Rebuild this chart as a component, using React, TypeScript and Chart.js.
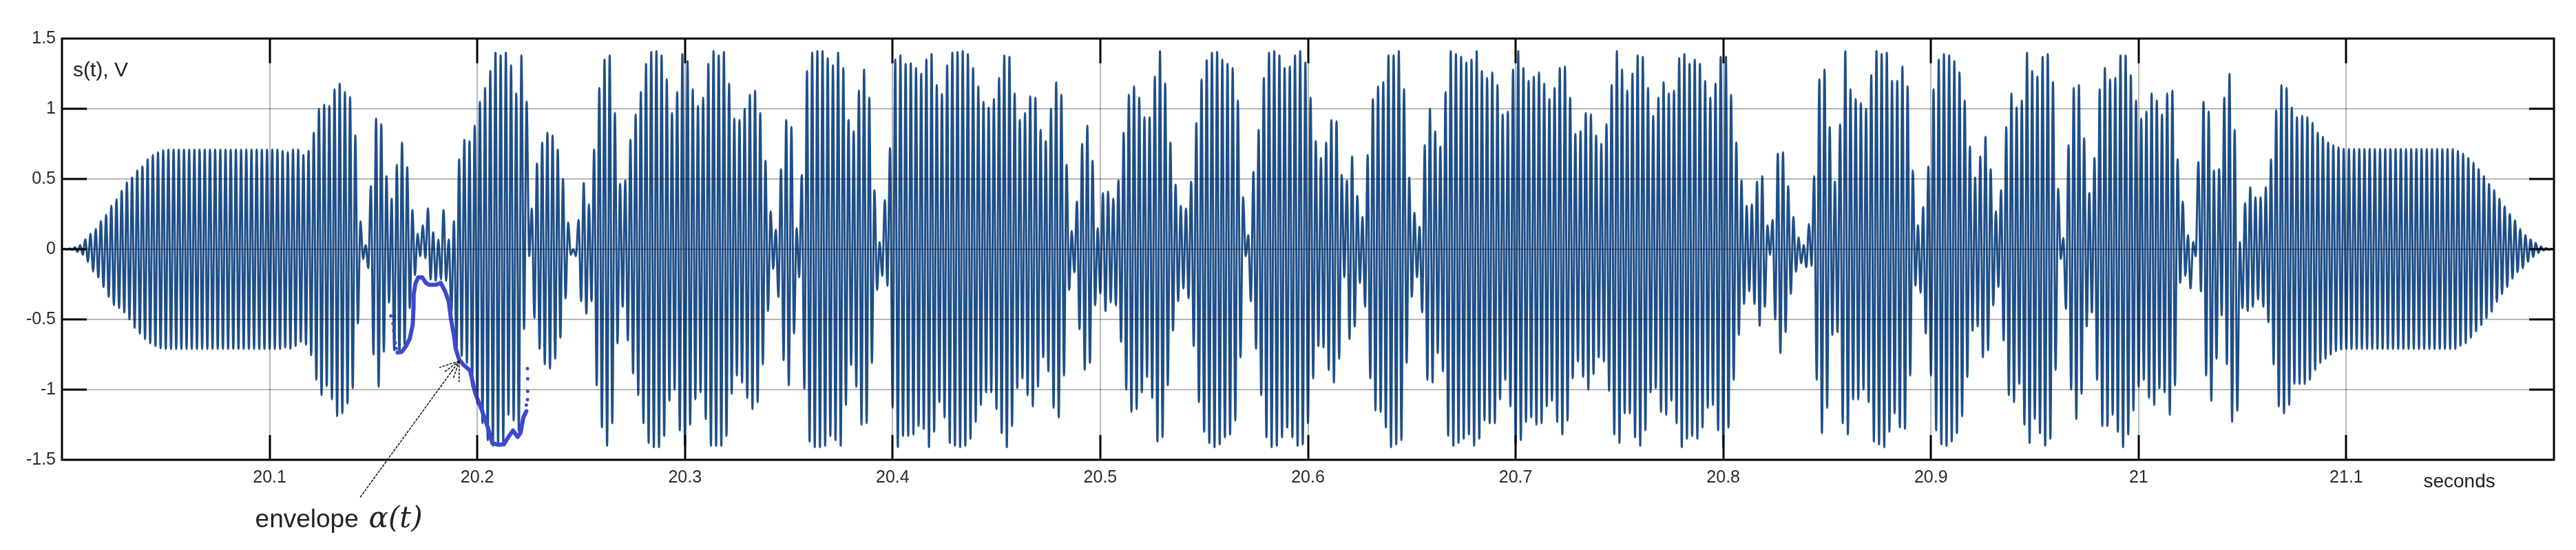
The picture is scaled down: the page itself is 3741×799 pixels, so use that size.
import React, { useEffect, useRef } from "react";
import { Chart, registerables } from "chart.js";

Chart.register(...registerables);

// --- values ---
const startTime = 20.0;
const endTime = 21.2;
const carrierPeriod = 0.0025;

// Positive peak of each carrier cycle
const upperPeaks: number[] = [
  0.003, 0.005, 0.015, 0.03, 0.07, 0.11, 0.145, 0.2, 0.245, 0.31, 0.355, 0.415, 0.475, 0.51, 0.56, 0.59, 0.64, 0.67, 0.69, 0.705,
  0.71, 0.71, 0.71, 0.71, 0.71, 0.71, 0.71, 0.71, 0.71, 0.71, 0.71, 0.71, 0.71, 0.71, 0.71, 0.71, 0.71, 0.71, 0.71, 0.71, 0.71, 0.71,
  0.7, 0.69, 0.71, 0.71, 0.67, 0.7, 0.83, 1.0, 1.03, 1.02, 1.14, 1.18,
  1.12, 1.085, 0.81, 0.2, 0.03, 0.45, 0.93, 0.89, 0.52, 0.36, 0.6, 0.76, 0.585, 0.28, 0.11, 0.17, 0.29, 0.12, 0.07, 0.28, 0.07, 0.2,
  0.64, 0.78, 0.77, 0.88, 1.05, 1.15, 1.27, 1.4, 1.38, 1.4, 1.31, 1.11, 1.38, 1.05, 0.29, 0.61, 0.76, 0.83, 0.81, 0.71, 0.5, 0.19, 0.0,
  0.21, 0.47, 0.32, 0.71, 1.15, 1.35, 1.38, 0.97, 0.465,
  0.49, 0.78, 0.96, 1.12, 1.32, 1.405, 1.41, 1.38, 1.21, 0.97, 1.12, 1.39, 1.34, 1.14, 1.02, 1.08, 1.32, 1.41, 1.38, 1.405, 1.18, 0.93,
  0.92, 1.0, 1.1, 1.13, 0.97, 0.63, 0.27, 0.14, 0.57, 0.92, 0.87, 0.15, 0.53, 1.27, 1.4, 1.41, 1.41, 1.36, 1.31, 1.4, 1.29, 0.92, 0.84,
  1.13, 1.28, 1.08, 0.42, 0.05, 0.35, 0.72, 1.35, 1.38, 1.32, 1.325, 1.29,
  1.25, 1.35, 1.39, 1.17, 1.105, 1.31, 1.4, 1.405, 1.41, 1.39, 1.29, 1.16, 1.05, 1.01, 1.07, 1.22, 1.38, 1.37, 1.11, 0.92, 0.97, 1.09,
  1.08, 0.85, 0.77, 1.0, 1.19, 1.1, 0.6, 0.13, 0.34, 0.75, 0.88, 0.63, 0.15, 0.4, 0.41, 0.36, 0.49, 0.83, 1.1, 1.16, 1.08, 0.94, 0.94,
  1.23, 1.41, 1.18, 0.76, 0.46, 0.31, 0.29, 0.48, 0.9,
  1.21, 1.345, 1.4, 1.405, 1.35, 1.32, 1.29, 1.06, 0.37, 0.1, 0.55, 0.85, 1.22, 1.4, 1.41, 1.38, 1.29, 1.3, 1.38, 1.41, 1.33, 1.08, 0.77,
  0.65, 0.76, 0.92, 0.91, 0.53, 0.49, 0.66, 0.38, 0.23, 0.67, 1.07, 1.16, 1.19, 1.38, 1.38, 1.41, 1.14, 0.51, 0.26, 0.16, 0.74, 1.0, 0.84,
  0.73, 1.12, 1.41, 1.39, 1.37, 1.33, 1.35,
  1.41, 1.27, 1.22, 1.26, 1.17, 0.96, 0.98, 1.28, 1.41, 1.29, 1.2, 1.23, 1.26, 1.18, 1.07, 1.15, 1.29, 1.3, 1.08, 0.82, 0.84, 0.97, 0.96,
  0.81, 0.75, 0.89, 1.17, 1.41, 1.28, 1.13, 1.25, 1.38, 1.37, 1.15, 0.95, 1.08, 1.19, 1.11, 1.13, 1.36, 1.39, 1.32, 1.35, 1.32, 1.2, 1.08,
  1.18, 1.37, 1.37, 1.1, 0.76, 0.49, 0.31, 0.32,
  0.48, 0.52, 0.17, 0.21, 0.68, 0.69, 0.45, 0.23, 0.085, 0.03, 0.18, 0.52, 1.21, 1.28, 0.87, 0.48, 0.89, 1.41, 1.14, 1.07, 1.04, 1.0, 1.24,
  1.41, 1.39, 1.4, 1.2, 1.2, 1.3, 1.16, 0.56, 0.17, 0.3, 0.59, 1.14, 1.35, 1.39, 1.38, 1.34, 1.26, 1.06, 0.73, 0.51, 0.66, 0.8, 0.57, 0.27,
  0.42, 0.87, 1.11, 1.01, 1.06, 1.4, 1.27, 1.23, 1.37,
  1.39, 1.19, 0.43, 0.08, 0.74, 1.15, 1.17, 0.79, 0.4, 0.65, 1.14, 1.29, 1.21, 1.22, 1.38, 1.38, 1.24, 1.06, 0.93, 0.98, 1.11, 1.06, 0.96,
  1.11, 1.13, 0.64, 0.34, 0.1, 0.05, 0.62, 1.05, 0.98, 0.56, 0.57, 1.08, 1.25, 0.85, 0.05, 0.33, 0.44, 0.37, 0.37, 0.44, 0.64, 0.99, 1.17,
  1.15, 1.01, 0.94, 0.95, 0.94, 0.9, 0.83, 0.8, 0.76,
  0.74, 0.725, 0.715, 0.713, 0.713, 0.713, 0.713, 0.713, 0.713, 0.713, 0.713, 0.713, 0.713, 0.713, 0.713, 0.713, 0.713, 0.713, 0.713, 0.713,
  0.713, 0.713, 0.713, 0.713, 0.7, 0.68, 0.65, 0.615, 0.57, 0.52, 0.465, 0.42, 0.36, 0.305, 0.25, 0.205, 0.145, 0.1, 0.07, 0.045, 0.02, 0.007, 0.002,
];

// Negative peak of each carrier cycle
const lowerPeaks: number[] = [
  -0.002, -0.005, -0.02, -0.04, -0.09, -0.16, -0.2, -0.27, -0.34, -0.4, -0.42, -0.45, -0.5, -0.56, -0.6, -0.64, -0.67, -0.69, -0.705,
  -0.71, -0.71, -0.71, -0.71, -0.71, -0.71, -0.71, -0.71, -0.71, -0.71, -0.71, -0.71, -0.71, -0.71, -0.71, -0.71, -0.71, -0.71, -0.71, -0.71, -0.71, -0.71, -0.71,
  -0.7, -0.71, -0.69, -0.66, -0.68, -0.755, -0.93, -1.04, -0.975, -1.07, -1.19, -1.17,
  -1.1, -0.99, -0.53, -0.07, -0.135, -0.75, -0.98, -0.73, -0.38, -0.72, -0.74, -0.68, -0.42, -0.185, -0.05, -0.065, -0.215, -0.225, -0.215, -0.225,
  -0.45, -0.72, -0.76, -0.81, -0.98, -1.1, -1.24, -1.36, -1.4, -1.4, -1.38, -1.18, -1.22, -1.3, -0.57, -0.05, -0.49, -0.71, -0.82, -0.85, -0.78, -0.63,
  -0.35, -0.04, -0.05, -0.37, -0.46, -0.37, -0.97, -1.27, -1.4, -1.24, -0.67, -0.41,
  -0.65, -0.885, -1.04, -1.24, -1.38, -1.41, -1.41, -1.33, -1.08, -1.0, -1.29, -1.4, -1.25, -1.07, -1.02, -1.21, -1.4, -1.4, -1.4, -1.33, -1.03, -0.9,
  -0.95, -1.06, -1.14, -1.09, -0.82, -0.44, -0.14, -0.34, -0.79, -0.97, -0.6, -0.2, -0.995, -1.37, -1.41, -1.41, -1.4, -1.33, -1.36, -1.4, -1.11, -0.825,
  -0.98, -1.25, -1.24, -0.81, -0.29, -0.19, -0.26, -1.13, -1.41, -1.33, -1.33,
  -1.32, -1.26, -1.28, -1.41, -1.3, -1.09, -1.2, -1.38, -1.4, -1.41, -1.4, -1.35, -1.23, -1.11, -1.02, -1.02, -1.14, -1.31, -1.41, -1.26, -0.99, -0.92,
  -1.04, -1.12, -0.98, -0.77, -0.87, -1.13, -1.2, -0.9, -0.29, -0.165, -0.57, -0.86, -0.81, -0.4, -0.315, -0.44, -0.38, -0.4, -0.66, -1.0, -1.16, -1.14,
  -1.02, -0.91, -1.06, -1.37, -1.34, -0.97, -0.58, -0.37, -0.28, -0.35, -0.69,
  -1.09, -1.3, -1.38, -1.41, -1.39, -1.34, -1.32, -1.22, -0.77, -0.05, -0.37, -0.71, -1.04, -1.34, -1.41, -1.4, -1.34, -1.27, -1.34, -1.4, -1.39, -1.24,
  -0.92, -0.69, -0.7, -0.86, -0.95, -0.78, -0.2, -0.64, -0.55, -0.24, -0.41, -0.92, -1.15, -1.16, -1.27, -1.41, -1.39, -1.36, -0.81, -0.34, -0.2, -0.45,
  -0.93, -0.95, -0.74, -0.87, -1.33, -1.4, -1.38, -1.35, -1.32, -1.4,
  -1.35, -1.22, -1.24, -1.24, -1.07, -0.93, -1.12, -1.39, -1.36, -1.23, -1.2, -1.25, -1.24, -1.12, -1.08, -1.23, -1.32, -1.22, -0.92, -0.8, -0.91, -1.0,
  -0.89, -0.77, -0.8, -1.01, -1.32, -1.38, -1.17, -1.17, -1.34, -1.4, -1.29, -1.02, -0.99, -1.16, -1.18, -1.08, -1.24, -1.41, -1.35, -1.33, -1.35, -1.27,
  -1.13, -1.11, -1.29, -1.41, -1.27, -0.93, -0.61, -0.39, -0.3, -0.39,
  -0.545, -0.41, -0.04, -0.5, -0.74, -0.59, -0.32, -0.16, -0.1, -0.13, -0.12, -0.93, -1.31, -1.13, -0.61, -0.59, -1.24, -1.32, -1.07, -1.07, -1.0, -1.09,
  -1.37, -1.39, -1.41, -1.3, -1.17, -1.27, -1.28, -0.9, -0.26, -0.31, -0.6, -0.9, -1.29, -1.39, -1.4, -1.37, -1.31, -1.19, -0.91, -0.58, -0.55, -0.77, -0.72,
  -0.4, -0.27, -0.65, -1.04, -1.09, -0.96, -1.25, -1.38, -1.21, -1.31,
  -1.4, -1.35, -0.86, -0.07, -0.425, -1.0, -1.21, -1.03, -0.55, -0.45, -0.93, -1.26, -1.26, -1.18, -1.3, -1.41, -1.32, -1.15, -0.98, -0.93, -1.06, -1.11,
  -0.99, -1.02, -1.18, -0.97, -0.24, -0.19, -0.28, -0.05, -0.3, -0.9, -1.08, -0.78, -0.47, -0.82, -1.23, -1.15, -0.42, -0.44, -0.41, -0.36, -0.41, -0.52,
  -0.82, -1.12, -1.17, -1.11, -0.96, -0.96, -0.96, -0.93, -0.86, -0.81, -0.78,
  -0.75, -0.727, -0.715, -0.71, -0.71, -0.71, -0.71, -0.71, -0.71, -0.71, -0.71, -0.71, -0.71, -0.71, -0.71, -0.71, -0.71, -0.71, -0.71, -0.71, -0.71, -0.71, -0.71, -0.71,
  -0.71, -0.688, -0.67, -0.63, -0.585, -0.54, -0.49, -0.445, -0.376, -0.32, -0.27, -0.21, -0.165, -0.137, -0.09, -0.055, -0.027, -0.01, -0.004, -0.002,
];

// Hand-traced envelope
const envelopeTimes = [
  20.1616, 20.16358, 20.1658, 20.16745, 20.16889, 20.16933, 20.16933, 20.17021, 20.17154, 20.17353, 20.17519, 20.17685,
  20.18016, 20.18238, 20.18458, 20.18624, 20.18735, 20.18878, 20.18956, 20.19122, 20.19343, 20.19652, 20.19895, 20.20227,
  20.20503, 20.20724, 20.21001, 20.21277, 20.21498, 20.21719, 20.21941, 20.22084, 20.22216, 20.2236,
];
const envelopeValues = [
  -0.736, -0.732, -0.687, -0.638, -0.539, -0.402, -0.323, -0.244, -0.201, -0.201, -0.24, -0.254,
  -0.254, -0.24, -0.303, -0.372, -0.5, -0.618, -0.707, -0.785, -0.825, -0.864, -1.022, -1.15,
  -1.268, -1.382, -1.392, -1.39, -1.337, -1.291, -1.337, -1.307, -1.199, -1.154,
];
const dotTimes = [20.1584, 20.15938, 20.15972, 20.16005, 20.16049, 20.16093, 20.22415, 20.22426, 20.22426, 20.22415, 20.2236];
const dotValues = [-0.476, -0.529, -0.579, -0.628, -0.667, -0.707, -0.85, -0.923, -1.012, -1.071, -1.11];

const xTickValues = [20.1, 20.2, 20.3, 20.4, 20.5, 20.6, 20.7, 20.8, 20.9, 21, 21.1];
const yTickValues = [-1.5, -1, -0.5, 0, 0.5, 1, 1.5];

const yAxisLabel = "s(t), V";
const xAxisLabel = "seconds";
const envelopeLabel = "envelope";
const envelopeSymbol = "\u03B1(t)";
const arrowTail = { x: 20.1436, y: -1.767 };
const arrowTip = { x: 20.1913, y: -0.796 };

const SIGNAL_COLOR = "#1f4f88";
const ENVELOPE_COLOR = "#3f49cf";
const SANS = '"Liberation Sans", Arial, sans-serif';

function signalPoints() {
  const pts: { x: number; y: number }[] = [{ x: startTime, y: 0 }];
  const n = Math.min(upperPeaks.length, lowerPeaks.length);
  for (let i = 0; i < n; i++) {
    pts.push({ x: startTime + (i + 0.5) * carrierPeriod, y: upperPeaks[i] });
    pts.push({ x: startTime + (i + 1) * carrierPeriod, y: lowerPeaks[i] });
  }
  pts.push({ x: endTime, y: 0 });
  return pts;
}

const framePlugin = {
  id: "frame",
  afterDraw(chart: any) {
    const { ctx, chartArea: a, scales } = chart;
    const sx = scales.x;
    const sy = scales.y;
    ctx.save();
    // inward ticks
    ctx.strokeStyle = "#000";
    ctx.lineWidth = 3;
    const len = 36;
    ctx.beginPath();
    xTickValues.forEach((v) => {
      const px = Math.round(sx.getPixelForValue(v));
      ctx.moveTo(px, a.top);
      ctx.lineTo(px, a.top + len);
      ctx.moveTo(px, a.bottom);
      ctx.lineTo(px, a.bottom - len);
    });
    yTickValues.slice(1, -1).forEach((v) => {
      const py = Math.round(sy.getPixelForValue(v));
      ctx.moveTo(a.left, py);
      ctx.lineTo(a.left + len, py);
      ctx.moveTo(a.right, py);
      ctx.lineTo(a.right - len, py);
    });
    ctx.stroke();
    // frame
    ctx.lineWidth = 3;
    ctx.strokeRect(a.left, a.top, a.right - a.left, a.bottom - a.top);

    // arrow
    const x0 = sx.getPixelForValue(arrowTail.x);
    const y0 = sy.getPixelForValue(arrowTail.y);
    const x1 = sx.getPixelForValue(arrowTip.x);
    const y1 = sy.getPixelForValue(arrowTip.y);
    ctx.strokeStyle = "#111";
    ctx.lineWidth = 1.5;
    ctx.setLineDash([4, 1.5]);
    ctx.beginPath();
    ctx.moveTo(x0, y0);
    ctx.lineTo(x1, y1);
    const ang = Math.atan2(y0 - y1, x0 - x1);
    [-0.62, -0.3, 0.3, 0.62].forEach((d) => {
      const l = 28 / Math.max(0.7, Math.cos(d) + 0.1);
      ctx.moveTo(x1, y1);
      ctx.lineTo(x1 + l * Math.cos(ang + d), y1 + l * Math.sin(ang + d));
    });
    ctx.stroke();
    ctx.setLineDash([]);

    // texts
    ctx.fillStyle = "#222";
    ctx.textBaseline = "middle";
    ctx.textAlign = "left";
    ctx.font = `30px ${SANS}`;
    ctx.fillText(yAxisLabel, a.left + 16, a.top + 47);
    ctx.font = `28px ${SANS}`;
    ctx.fillText(xAxisLabel, sx.getPixelForValue(21.1) + 112, a.bottom + 32);
    ctx.font = `37px ${SANS}`;
    ctx.fillText(envelopeLabel, sx.getPixelForValue(20.1) - 21, a.bottom + 88);
    ctx.font = `italic 42px "DejaVu Serif", serif`;
    ctx.fillText(envelopeSymbol, sx.getPixelForValue(20.1) + 144, a.bottom + 87);
    ctx.restore();
  },
};

export default function App() {
  const ref = useRef<HTMLCanvasElement | null>(null);

  useEffect(() => {
    if (!ref.current) return;
    const chart = new Chart(ref.current, {
      type: "scatter",
      data: {
        datasets: [
          {
            label: "s(t)",
            data: signalPoints(),
            showLine: true,
            borderColor: SIGNAL_COLOR,
            borderWidth: 3,
            pointRadius: 0,
            cubicInterpolationMode: "monotone",
            order: 3,
          },
          {
            label: "envelope",
            data: envelopeTimes.map((x, i) => ({ x, y: envelopeValues[i] })),
            showLine: true,
            borderColor: ENVELOPE_COLOR,
            borderWidth: 6,
            pointRadius: 0,
            tension: 0,
            borderJoinStyle: "round",
            borderCapStyle: "round",
            order: 1,
          },
          {
            label: "envelope dots",
            data: dotTimes.map((x, i) => ({ x, y: dotValues[i] })),
            showLine: false,
            pointRadius: 2.5,
            pointBorderWidth: 0,
            pointBackgroundColor: ENVELOPE_COLOR,
            order: 2,
          },
        ],
      } as any,
      plugins: [framePlugin],
      options: {
        responsive: false,
        animation: false,
        layout: { padding: { top: 56, right: 32, left: 0, bottom: 0 } },
        plugins: { legend: { display: false }, tooltip: { enabled: false } },
        scales: {
          x: {
            type: "linear",
            min: startTime,
            max: endTime,
            afterBuildTicks: (axis: any) => {
              axis.ticks = xTickValues.map((value) => ({ value }));
            },
            afterFit: (axis: any) => {
              axis.height = 131;
            },
            grid: { color: "rgba(0,0,0,0.28)", lineWidth: 2, drawTicks: false, z: 1 },
            border: { display: false },
            ticks: {
              autoSkip: false,
              maxRotation: 0,
              padding: 11,
              color: "#2a2a2a",
              font: { family: SANS, size: 25 },
              callback: (v: any) => String(v),
            },
          },
          y: {
            type: "linear",
            min: -1.5,
            max: 1.5,
            afterBuildTicks: (axis: any) => {
              axis.ticks = yTickValues.map((value) => ({ value }));
            },
            afterFit: (axis: any) => {
              axis.width = 90;
            },
            grid: { color: "rgba(0,0,0,0.28)", lineWidth: 2, drawTicks: false, z: 1 },
            border: { display: false },
            ticks: {
              autoSkip: false,
              padding: 9,
              color: "#2a2a2a",
              font: { family: SANS, size: 25 },
              callback: (v: any) => String(v),
            },
          },
        },
      },
    } as any);
    return () => chart.destroy();
  }, []);

  return (
    <div style={{ position: "absolute", left: 0, top: 0, width: 3741, height: 799, background: "#fff" }}>
      <canvas ref={ref} width={3741} height={799} style={{ display: "block" }} />
    </div>
  );
}
